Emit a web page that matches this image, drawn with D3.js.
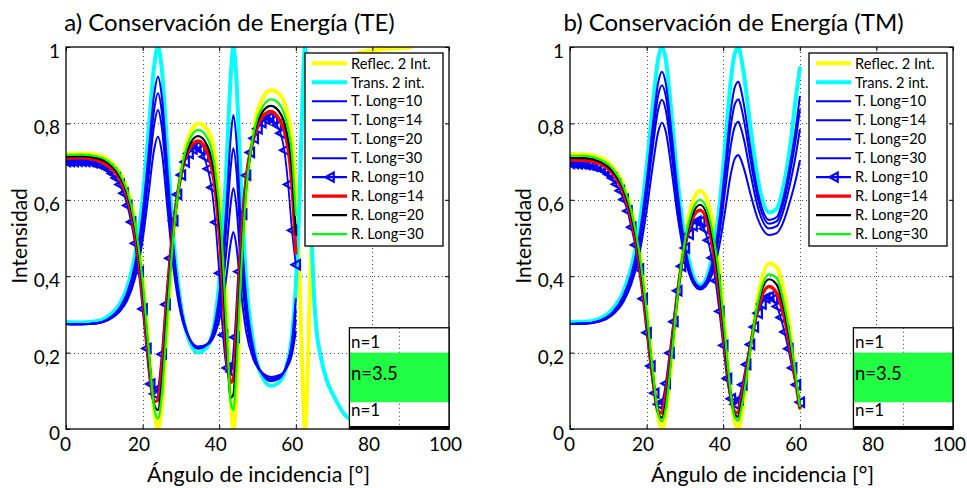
<!DOCTYPE html>
<html>
<head>
<meta charset="utf-8">
<script src="https://cdn.jsdelivr.net/npm/d3@7"></script>
<style>
  body { margin: 0; background: #fff; }
  svg { display: block; }
  text { font-family: Lato, "Open Sans", sans-serif; fill: #000; }
</style>
</head>
<body>
<svg id="fig" width="967" height="488"></svg>
<script>
// ---------- angles of incidence (degrees) ----------
const angle = [0, 4, 8, 11, 14, 16, 18, 20, 21.5, 23, 24, 25, 26.5, 28, 30, 32, 34.5, 37, 39, 40.5,
               42, 43, 43.7, 44.5, 45.5, 47, 49, 51.5, 53.5, 55.5, 57.5, 59, 60];
const angleTail = [61, 61.8, 62.4, 63, 63.6, 64.2, 64.8, 65.5, 66.5, 68, 70, 73, 77, 80, 85, 90];
const angleTM = [0, 4, 8, 11, 14, 16, 18, 20, 21.5, 23, 24, 25, 26.5, 28, 30, 32, 34, 37, 39, 40.5,
                 42, 43, 44, 44.5, 45.5, 47, 49, 52, 54, 55.5, 57.5, 59, 60];
const angleStep = [0, 1, 2, 3, 4, 5, 6, 7, 8, 9, 10, 11, 12, 13, 14, 15, 16, 17, 18, 19, 20,
                   21, 22, 23, 24, 25, 26, 27, 28, 29, 30, 31, 32, 33, 34, 35, 36, 37, 38, 39, 40,
                   41, 42, 43, 44, 45, 46, 47, 48, 49, 50, 51, 52, 53, 54, 55, 56, 57, 58, 59, 60];

// ---------- TE ----------
const reflTE = [.720, .721, .718, .705, .673, .629, .547, .399, .228, .052, 0, .056, .275, .494, .676, .764, .80, .783, .706, .558,
                .288, .078, 0, .086, .324, .605, .783, .868, .887, .879, .838, .755, .628,
                .39, .12, 0, .12, .34, .52, .66, .75, .81, .87, .915, .965, .986, .991, .996, .999];
const transTE = [.280, .279, .282, .295, .327, .371, .453, .601, .772, .948, 1, .944, .725, .506, .324, .236, .20, .217, .294, .442,
                 .712, .922, 1, .914, .676, .395, .217, .132, .113, .121, .162, .245, .372,
                 .61, .88, 1, .88, .66, .48, .34, .25, .19, .13, .085, .035, .014, .009, .004, .001];
const tLong10TE = [.275, .274, .276, .285, .307, .337, .393, .494, .611, .731, .765, .726, .576, .426, .301, .241, .216, .222, .251, .307,
                   .408, .487, .516, .479, .377, .257, .181, .145, .136, .14, .158, .195, .255];
const tLong14TE = [.275, .274, .277, .286, .311, .345, .409, .524, .657, .795, .835, .791, .622, .451, .310, .242, .214, .223, .263, .340,
                   .480, .589, .63, .582, .448, .290, .190, .143, .132, .137, .160, .210, .285];
const tLong20TE = [.275, .274, .277, .287, .314, .351, .420, .545, .688, .835, .879, .832, .650, .467, .315, .242, .212, .223, .273, .370,
                   .547, .684, .735, .676, .513, .321, .199, .141, .128, .134, .163, .222, .31];
const tLong30TE = [.275, .274, .277, .288, .317, .357, .431, .564, .716, .874, .922, .872, .677, .482, .320, .242, .21, .223, .282, .395,
                   .602, .762, .822, .755, .568, .347, .207, .140, .125, .131, .164, .231, .34];
const rLong10TE = [.70, .70, .70, .701, .701, .70, .70, .697, .695, .691, .685, .679, .669, .657, .64, .617, .585, .542, .486, .412,
                   .314, .211, .118, .092, .106, .196, .326, .447, .545, .614, .665, .699, .721, .733, .74, .731, .713, .681, .632, .541,
                   .408, .246, .16, .15, .24, .412, .562, .664, .724, .761, .786, .802, .811, .815, .808, .795, .774, .73, .64, .52, .43];
const rLong14TE = [.709, .710, .704, .688, .655, .607, .513, .353, .193, .072, .075, .154, .351, .523, .664, .730, .754, .721, .622, .444,
                   .19, .122, .13, .247, .44, .649, .761, .82, .831, .813, .761, .637, .46];
const rLong20TE = [.713, .714, .709, .696, .662, .616, .528, .374, .207, .064, .05, .118, .325, .510, .665, .738, .767, .739, .649, .484,
                   .217, .082, .09, .201, .40, .624, .767, .833, .846, .833, .782, .68, .51];
const rLong30TE = [.717, .718, .714, .701, .668, .623, .538, .387, .217, .057, .027, .089, .300, .503, .670, .751, .783, .76, .674, .525,
                   .248, .069, .05, .156, .368, .617, .773, .846, .863, .853, .806, .718, .56];

// ---------- TM ----------
const reflTM = [.720, .719, .710, .688, .639, .578, .476, .315, .164, .033, 0, .033, .174, .338, .503, .594, .624, .555, .418, .257,
                .087, .018, 0, .018, .078, .20, .343, .433, .423, .375, .258, .13, .055];
const transTM = [.280, .281, .290, .312, .361, .422, .524, .685, .836, .967, 1, .967, .826, .662, .497, .406, .376, .445, .582, .743,
                 .913, .982, 1, .982, .922, .80, .657, .567, .577, .625, .742, .87, .945];
const tLong10TM = [.275, .276, .282, .298, .334, .379, .453, .571, .681, .776, .802, .779, .680, .564, .448, .384, .365, .402, .480, .571,
                   .668, .707, .717, .708, .679, .620, .551, .508, .513, .537, .598, .655, .702];
const tLong14TM = [.275, .276, .283, .301, .341, .391, .474, .607, .729, .835, .862, .835, .723, .593, .462, .389, .368, .414, .511, .624,
                   .743, .791, .804, .792, .754, .675, .582, .525, .531, .564, .644, .720, .783];
const tLong20TM = [.275, .276, .284, .303, .346, .399, .487, .627, .757, .872, .90, .872, .751, .611, .471, .393, .37, .422, .531, .659,
                   .794, .849, .863, .850, .804, .712, .604, .537, .544, .582, .674, .762, .835];
const tLong30TM = [.275, .276, .284, .304, .350, .405, .499, .646, .785, .905, .935, .905, .777, .629, .479, .396, .372, .429, .548, .687,
                   .834, .894, .909, .894, .844, .741, .622, .547, .555, .596, .696, .791, .87];
const rLong10TM = [.695, .695, .694, .694, .692, .691, .688, .686, .681, .675, .667, .657, .641, .624, .601, .571, .528, .482, .419, .341,
                   .252, .165, .094, .065, .071, .119, .199, .281, .362, .426, .474, .51, .532, .544, .544, .524, .494, .448, .388, .308,
                   .219, .132, .079, .065, .077, .116, .169, .221, .267, .303, .327, .343, .346, .34, .321, .292, .254, .21, .16, .116, .07];
const rLong14TM = [.705, .703, .693, .670, .618, .551, .444, .282, .144, .047, .042, .087, .211, .347, .481, .552, .573, .49, .354, .211,
                   .085, .045, .042, .068, .118, .21, .313, .373, .355, .31, .212, .12, .055];
const rLong20TM = [.710, .709, .699, .676, .626, .561, .457, .297, .150, .042, .03, .067, .197, .343, .485, .562, .587, .51, .376, .226,
                   .084, .037, .032, .055, .105, .207, .323, .392, .377, .331, .228, .13, .058];
const rLong30TM = [.716, .715, .705, .683, .633, .571, .468, .309, .160, .041, .02, .054, .186, .340, .491, .574, .60, .527, .396, .243,
                   .09, .031, .022, .042, .096, .203, .328, .405, .395, .345, .24, .135, .06];

// ---------- axis ticks and labels ----------
const xTicks = [0, 20, 40, 60, 80, 100];
const yTicks = [0, 0.2, 0.4, 0.6, 0.8, 1];
const legendNames = ['Reflec. 2 Int.', 'Trans. 2 int.', 'T. Long=10', 'T. Long=14', 'T. Long=20', 'T. Long=30',
                     'R. Long=10', 'R. Long=14', 'R. Long=20', 'R. Long=30'];
const layerLabels = ['n=1', 'n=3.5', 'n=1'];

// line styles, in legend order
const styles = [
  { color: '#ffff00', width: 4 },
  { color: '#00ffff', width: 4 },
  { color: '#0000ff', width: 2 },
  { color: '#0000ff', width: 2 },
  { color: '#0000ff', width: 2 },
  { color: '#0000ff', width: 2 },
  { color: '#0000ff', width: 1.8, marker: true },
  { color: '#ff0000', width: 3.4 },
  { color: '#000000', width: 2.2 },
  { color: '#00ff00', width: 2.2 }
];

const zip = (xs, ys) => xs.map((x, i) => [x, ys[i]]);
const angleWide = angle.concat(angleTail);

const panels = [
  {
    left: 66, title: 'a) Conservación de Energía (TE)',
    data: [
      zip(angleWide, reflTE), zip(angleWide, transTE),
      zip(angle, tLong10TE), zip(angle, tLong14TE), zip(angle, tLong20TE), zip(angle, tLong30TE),
      zip(angleStep, rLong10TE), zip(angle, rLong14TE), zip(angle, rLong20TE), zip(angle, rLong30TE)
    ]
  },
  {
    left: 570, title: 'b) Conservación de Energía (TM)',
    data: [
      zip(angleTM, reflTM), zip(angleTM, transTM),
      zip(angleTM, tLong10TM), zip(angleTM, tLong14TM), zip(angleTM, tLong20TM), zip(angleTM, tLong30TM),
      zip(angleStep, rLong10TM), zip(angleTM, rLong14TM), zip(angleTM, rLong20TM), zip(angleTM, rLong30TM)
    ]
  }
];

const svg = d3.select('#fig');
const W = 383, TOP = 47, BOTTOM = 429;
const comma = d3.formatLocale({ decimal: ',', thousands: '.', grouping: [3], currency: ['', ''] }).format('~g');
const triangle = 'M-4.2,0L4.2,-4.6L4.2,4.6Z';

panels.forEach((p, pi) => {
  const x = d3.scaleLinear().domain([0, 100]).range([p.left, p.left + W]);
  const y = d3.scaleLinear().domain([0, 1]).range([BOTTOM, TOP]);
  const g = svg.append('g');

  const clipId = 'clip' + pi;
  g.append('clipPath').attr('id', clipId)
    .append('rect').attr('x', x(0)).attr('y', y(1)).attr('width', W).attr('height', BOTTOM - TOP);

  // dotted grid
  const grid = g.append('g').attr('stroke', '#444').attr('stroke-width', 1).attr('stroke-dasharray', '1,3');
  xTicks.slice(1, -1).forEach(t => grid.append('line')
    .attr('x1', Math.round(x(t)) + 0.5).attr('x2', Math.round(x(t)) + 0.5).attr('y1', y(0)).attr('y2', y(1)));
  yTicks.slice(1, -1).forEach(t => grid.append('line')
    .attr('y1', Math.round(y(t)) + 0.5).attr('y2', Math.round(y(t)) + 0.5).attr('x1', x(0)).attr('x2', x(100)));

  // curves
  const line = d3.line().x(d => x(d[0])).y(d => y(d[1])).curve(d3.curveMonotoneX);
  const plot = g.append('g').attr('clip-path', `url(#${clipId})`);
  p.data.forEach((pts, i) => {
    const s = styles[i];
    plot.append('path').attr('d', line(pts)).attr('fill', 'none')
      .attr('stroke', s.color).attr('stroke-width', s.width)
      .attr('stroke-linejoin', 'round').attr('stroke-linecap', 'round');
    if (s.marker) {
      plot.append('g').selectAll('path').data(pts).join('path')
        .attr('d', triangle).attr('transform', d => `translate(${x(d[0])},${y(d[1])})`)
        .attr('fill', 'none').attr('stroke', s.color).attr('stroke-width', 2.2);
    }
  });

  // axes with inward ticks on all four sides
  const xAxis = d3.axisBottom(x).tickValues(xTicks).tickSize(-4).tickPadding(9).tickFormat(comma);
  const yAxis = d3.axisLeft(y).tickValues(yTicks).tickSize(-4).tickPadding(6).tickFormat(comma);
  const ax = g.append('g').attr('transform', `translate(0,${BOTTOM})`).call(xAxis);
  ax.select('.domain').remove();
  ax.selectAll('text').attr('font-size', 19).attr('font-family', 'Lato')
    .attr('dx', d => d === 0 ? -1 : -4).attr('dy', '0.71em');
  const ay = g.append('g').attr('transform', `translate(${x(0)},0)`).call(yAxis);
  ay.select('.domain').remove();
  ay.selectAll('text').attr('font-size', 19).attr('font-family', 'Lato').attr('dy', '0.55em');
  const axT = g.append('g').attr('transform', `translate(0,${TOP})`)
    .call(d3.axisTop(x).tickValues(xTicks).tickSize(-4).tickFormat(''));
  axT.select('.domain').remove();
  const ayR = g.append('g').attr('transform', `translate(${x(100)},0)`)
    .call(d3.axisRight(y).tickValues(yTicks).tickSize(-4).tickFormat(''));
  ayR.select('.domain').remove();
  g.selectAll('.tick line').attr('stroke', '#000');

  g.append('rect').attr('x', x(0)).attr('y', y(1)).attr('width', W).attr('height', BOTTOM - TOP)
    .attr('fill', 'none').attr('stroke', '#000').attr('stroke-width', 1.3);

  // titles
  g.append('text').attr('x', x(50) - 28).attr('y', 31).attr('text-anchor', 'middle')
    .attr('font-size', 24).text(p.title);
  g.append('text').attr('x', x(50) + 1).attr('y', 482).attr('text-anchor', 'middle')
    .attr('font-size', 21.5).text('Ángulo de incidencia [°]');
  g.append('text').attr('transform', `translate(${x(0) - 39},236) rotate(-90)`).attr('text-anchor', 'middle')
    .attr('font-size', 21).text('Intensidad');

  // legend
  const lx = x(0) + 239, ly = 53;
  const leg = g.append('g');
  leg.append('rect').attr('x', lx).attr('y', ly).attr('width', 138).attr('height', 193)
    .attr('fill', '#fff').attr('stroke', '#000').attr('stroke-width', 1.3);
  legendNames.forEach((name, i) => {
    const cy = ly + 10.3 + i * 18.97;
    const s = styles[i];
    leg.append('line').attr('x1', lx + 7).attr('x2', lx + 42).attr('y1', cy).attr('y2', cy)
      .attr('stroke', s.color).attr('stroke-width', s.marker ? 2.2 : s.width);
    if (s.marker) {
      leg.append('path').attr('d', triangle).attr('transform', `translate(${lx + 24.5},${cy})`)
        .attr('fill', 'none').attr('stroke', s.color).attr('stroke-width', 2.2);
    }
    leg.append('text').attr('x', lx + 46).attr('y', cy).attr('dy', '0.36em')
      .attr('font-size', 14.6).text(name);
  });

  // slab sketch: air / n=3.5 / air
  const bx0 = x(74), bx1 = x(100), by0 = y(0.265), by1 = y(0);
  const slab = g.append('g');
  slab.append('rect').attr('x', bx0).attr('y', by0).attr('width', bx1 - bx0).attr('height', by1 - by0)
    .attr('fill', '#fff');
  slab.append('line').attr('x1', Math.round(x(87)) + 0.5).attr('x2', Math.round(x(87)) + 0.5)
    .attr('y1', by0).attr('y2', by1).attr('stroke', '#444').attr('stroke-dasharray', '1,3');
  slab.append('rect').attr('x', bx0).attr('y', y(0.20)).attr('width', bx1 - bx0).attr('height', y(0.07) - y(0.20))
    .attr('fill', '#21ff45');
  slab.append('rect').attr('x', bx0).attr('y', by0).attr('width', bx1 - bx0).attr('height', by1 - by0)
    .attr('fill', 'none').attr('stroke', '#000').attr('stroke-width', 1.3);
  slab.append('line').attr('x1', bx0).attr('x2', bx1).attr('y1', by1 - 1.5).attr('y2', by1 - 1.5)
    .attr('stroke', '#000').attr('stroke-width', 3);
  const lblY = [348, 380, 416], lblSize = [17, 18.5, 17];
  layerLabels.forEach((t, i) => slab.append('text').attr('x', bx0 + 1.5).attr('y', lblY[i])
    .attr('font-family', '"Liberation Sans", Arial, sans-serif').attr('font-size', lblSize[i]).text(t));
});
</script>
</body>
</html>
